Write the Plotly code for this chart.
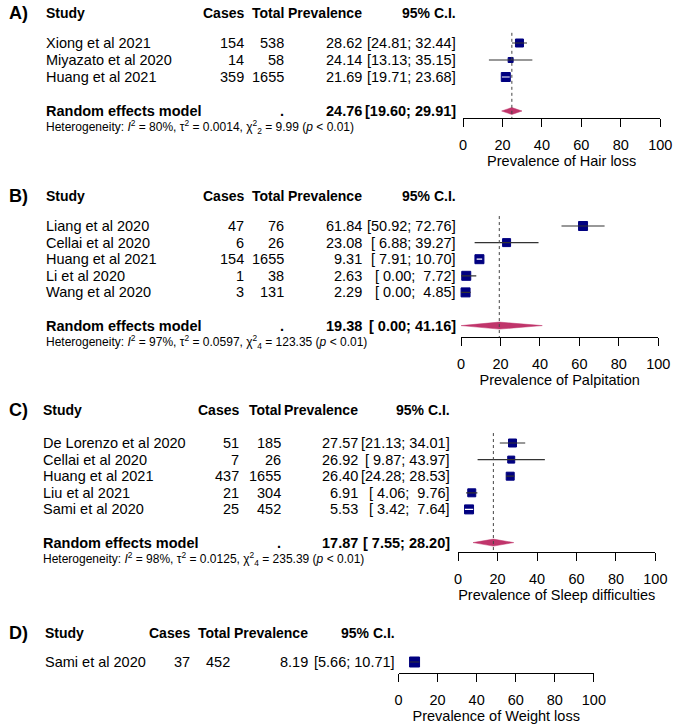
import plotly.graph_objects as go

W, H = 684, 724
FONT = "Liberation Sans, Arial, sans-serif"

# ---------------- data ----------------
# A) Hair loss
hair_study = ["Xiong et al 2021", "Miyazato et al 2020", "Huang et al 2021"]
hair_cases = [154, 14, 359]
hair_total = [538, 58, 1655]
hair_prev = [28.62, 24.14, 21.69]
hair_lo = [24.81, 13.13, 19.71]
hair_hi = [32.44, 35.15, 23.68]
hair_re = [24.76, 19.60, 29.91]
hair_het = ["80%", "0.0014", "2", "9.99", "&lt; 0.01"]

# B) Palpitation
palp_study = ["Liang et al 2020", "Cellai et al 2020", "Huang et al 2021", "Li et al 2020", "Wang et al 2020"]
palp_cases = [47, 6, 154, 1, 3]
palp_total = [76, 26, 1655, 38, 131]
palp_prev = [61.84, 23.08, 9.31, 2.63, 2.29]
palp_lo = [50.92, 6.88, 7.91, 0.00, 0.00]
palp_hi = [72.76, 39.27, 10.70, 7.72, 4.85]
palp_re = [19.38, 0.00, 41.16]
palp_het = ["97%", "0.0597", "4", "123.35", "&lt; 0.01"]

# C) Sleep difficulties
sleep_study = ["De Lorenzo et al 2020", "Cellai et al 2020", "Huang et al 2021", "Liu et al 2021", "Sami et al 2020"]
sleep_cases = [51, 7, 437, 21, 25]
sleep_total = [185, 26, 1655, 304, 452]
sleep_prev = [27.57, 26.92, 26.40, 6.91, 5.53]
sleep_lo = [21.13, 9.87, 24.28, 4.06, 3.42]
sleep_hi = [34.01, 43.97, 28.53, 9.76, 7.64]
sleep_re = [17.87, 7.55, 28.20]
sleep_het = ["98%", "0.0125", "4", "235.39", "&lt; 0.01"]

# D) Weight loss
wl_study = ["Sami et al 2020"]
wl_cases = [37]
wl_total = [452]
wl_prev = [8.19]
wl_lo = [5.66]
wl_hi = [10.71]

tick_vals = [0, 20, 40, 60, 80, 100]
headers = ["Study", "Cases", "Total", "Prevalence", "95% C.I."]

panels = [
    dict(label="A)", title="Prevalence of Hair loss", study=hair_study, cases=hair_cases, total=hair_total,
         prev=hair_prev, lo=hair_lo, hi=hair_hi, re=hair_re, het=hair_het),
    dict(label="B)", title="Prevalence of Palpitation", study=palp_study, cases=palp_cases, total=palp_total,
         prev=palp_prev, lo=palp_lo, hi=palp_hi, re=palp_re, het=palp_het),
    dict(label="C)", title="Prevalence of Sleep difficulties", study=sleep_study, cases=sleep_cases, total=sleep_total,
         prev=sleep_prev, lo=sleep_lo, hi=sleep_hi, re=sleep_re, het=sleep_het),
    dict(label="D)", title="Prevalence of Weight loss", study=wl_study, cases=wl_cases, total=wl_total,
         prev=wl_prev, lo=wl_lo, hi=wl_hi, re=None, het=None),
]

# ---------------- layout / style (pixels) ----------------
styles = [
    dict(x0=470, x1=672, xs=43, xc=246, xt=287, xp=367, xci=463, head=13, y0=43, rh=17.0, axis=118, sq=[8, 5, 9]),
    dict(x0=468, x1=670, xs=43, xc=246, xt=287, xp=367, xci=463, head=196, y0=226, rh=16.6, axis=337, sq=[9, 8, 9, 9, 9]),
    dict(x0=465, x1=667, xs=40, xc=241, xt=284, xp=362, xci=457, head=410, y0=443, rh=16.6, axis=552, sq=[8, 7, 8, 8, 9]),
    dict(x0=404, x1=604, xs=42, xc=190, xt=231, xp=311, xci=400, head=633, y0=662, rh=16.6, axis=673, sq=[10]),
]

FS = 14.5
HFS = 14
NAVY = "#000080"
DIAMOND = "#C0356B"
LINE = "#333333"


def py(px):
    return 1 - px / H


def px_x(px):
    return px / W


fig = go.Figure()
annotations = []
layout_axes = {}


def fmt_ci(lo_list, hi_list):
    los = [f"{v:.2f}" for v in lo_list]
    his = [f"{v:.2f}" for v in hi_list]
    wl = max(len(s) for s in los)
    wh = max(len(s) for s in his)
    return [f"[{' ' * (wl - len(a))}{a}; {' ' * (wh - len(b))}{b}]" for a, b in zip(los, his)]


def txt(x, y, text, anchor="right", size=FS, bold=False):
    if bold:
        text = f"<b>{text}</b>"
    annotations.append(dict(x=px_x(x), y=py(y), xref="paper", yref="paper", text=text, showarrow=False,
                            xanchor=anchor, yanchor="middle", borderpad=0, borderwidth=0,
                            font=dict(family=FONT, size=size, color="black")))


for k, (p, s) in enumerate(zip(panels, styles), start=1):
    sfx = "" if k == 1 else str(k)
    xa, ya = "x" + sfx, "y" + sfx
    n = len(p["study"])
    rh = s["rh"]
    top_px = s["y0"] - 14
    y_range = [-(s["axis"] - s["y0"]) / rh, (s["y0"] - top_px) / rh]
    ppu = (s["x1"] - s["x0"]) / 100.0

    # headers
    txt(5, s["head"], p["label"], anchor="left", size=18, bold=True)
    txt(s["xs"], s["head"], headers[0], anchor="left", size=HFS, bold=True)
    txt(s["xc"], s["head"], headers[1], size=HFS, bold=True)
    txt(s["xt"], s["head"], headers[2], size=HFS, bold=True)
    txt(s["xp"], s["head"], headers[3], size=HFS, bold=True)
    txt(s["xci"], s["head"], headers[4], size=HFS, bold=True)

    lo_all = p["lo"] + ([p["re"][1]] if p["re"] else [])
    hi_all = p["hi"] + ([p["re"][2]] if p["re"] else [])
    ci_txt = fmt_ci(lo_all, hi_all)

    for i in range(n):
        yy = s["y0"] + i * rh
        txt(s["xs"], yy, p["study"][i], anchor="left")
        txt(s["xc"], yy, str(p["cases"][i]))
        txt(s["xt"], yy, str(p["total"][i]))
        txt(s["xp"], yy, f"{p['prev'][i]:.2f}")
        txt(s["xci"], yy, ci_txt[i])

    ys = [-i for i in range(n)]

    # squares
    fig.add_trace(go.Scatter(x=p["prev"], y=ys, mode="markers", xaxis=xa, yaxis=ya, cliponaxis=False,
                             marker=dict(symbol="square", size=s["sq"], color=NAVY, opacity=1,
                                         line=dict(width=1, color=NAVY)),
                             hoverinfo="skip", showlegend=False))
    # CI lines
    bx, by, wx, wy = [], [], [], []
    for i in range(n):
        wide = (p["hi"][i] - p["lo"][i]) * ppu >= s["sq"][i]
        if wide:
            bx += [p["lo"][i], p["hi"][i], None]
            by += [ys[i], ys[i], None]
        else:
            wx += [p["lo"][i], p["hi"][i], None]
            wy += [ys[i], ys[i], None]
    if bx:
        fig.add_trace(go.Scatter(x=bx, y=by, mode="lines", xaxis=xa, yaxis=ya, line=dict(color=LINE, width=1.2),
                                 hoverinfo="skip", showlegend=False))
    if wx:
        fig.add_trace(go.Scatter(x=wx, y=wy, mode="lines", xaxis=xa, yaxis=ya, line=dict(color="white", width=1.2),
                                 hoverinfo="skip", showlegend=False))

    if p["re"]:
        est, lo, hi = p["re"]
        yre = -(n + 1)
        re_px = s["y0"] + (n + 1) * rh
        txt(s["xs"], re_px, "Random effects model", anchor="left", bold=True)
        txt(s["xt"], re_px, ".", bold=True)
        txt(s["xp"], re_px, f"{est:.2f}", bold=True)
        txt(s["xci"], re_px, ci_txt[-1], bold=True)
        i2, tau2, df, q, pv = p["het"]
        het = (f"Heterogeneity: <i>I</i><sup>2</sup> = {i2}, τ<sup>2</sup> = {tau2}, "
               f"χ<sup>2</sup><sub>{df}</sub> = {q} (<i>p</i> {pv})")
        txt(s["xs"], re_px + 16, het, anchor="left", size=12)

        dh = 3.5 / rh
        fig.add_trace(go.Scatter(x=[lo, est, hi, est, lo], y=[yre, yre + dh, yre, yre - dh, yre],
                                 mode="lines", fill="toself", fillcolor=DIAMOND, xaxis=xa, yaxis=ya,
                                 line=dict(color=DIAMOND, width=0.5), hoverinfo="skip", showlegend=False))
        fig.add_trace(go.Scatter(x=[est, est], y=[0.6, y_range[0]], mode="lines", xaxis=xa, yaxis=ya,
                                 line=dict(color="#444444", width=1, dash="dot"), hoverinfo="skip",
                                 showlegend=False))

    layout_axes["xaxis" + sfx] = dict(
        domain=[px_x(s["x0"]), px_x(s["x1"])], range=[0, 100], anchor=ya,
        showline=True, linecolor="black", linewidth=1, ticks="outside", ticklen=8, tickwidth=1,
        tickcolor="black", tickvals=tick_vals, ticklabelstandoff=6, showgrid=False, zeroline=False,
        tickfont=dict(family=FONT, size=FS, color="black"),
        title=dict(text=p["title"], font=dict(family=FONT, size=FS, color="black"), standoff=1),
    )
    layout_axes["yaxis" + sfx] = dict(
        domain=[py(s["axis"]), py(top_px)], range=y_range, anchor=xa, visible=False,
        showgrid=False, zeroline=False,
    )

fig.update_layout(
    width=W, height=H, margin=dict(l=0, r=0, t=0, b=0), autosize=False,
    paper_bgcolor="white", plot_bgcolor="rgba(0,0,0,0)",
    annotations=annotations, showlegend=False,
    font=dict(family=FONT, size=FS, color="black"),
    **layout_axes,
)

fig.write_html(
    "out.html",
    config={"displayModeBar": False, "responsive": False},
    post_script=("document.documentElement.style.margin='0';document.body.style.margin='0';"
                 "document.documentElement.style.overflow='hidden';document.body.style.overflow='hidden';"),
)
